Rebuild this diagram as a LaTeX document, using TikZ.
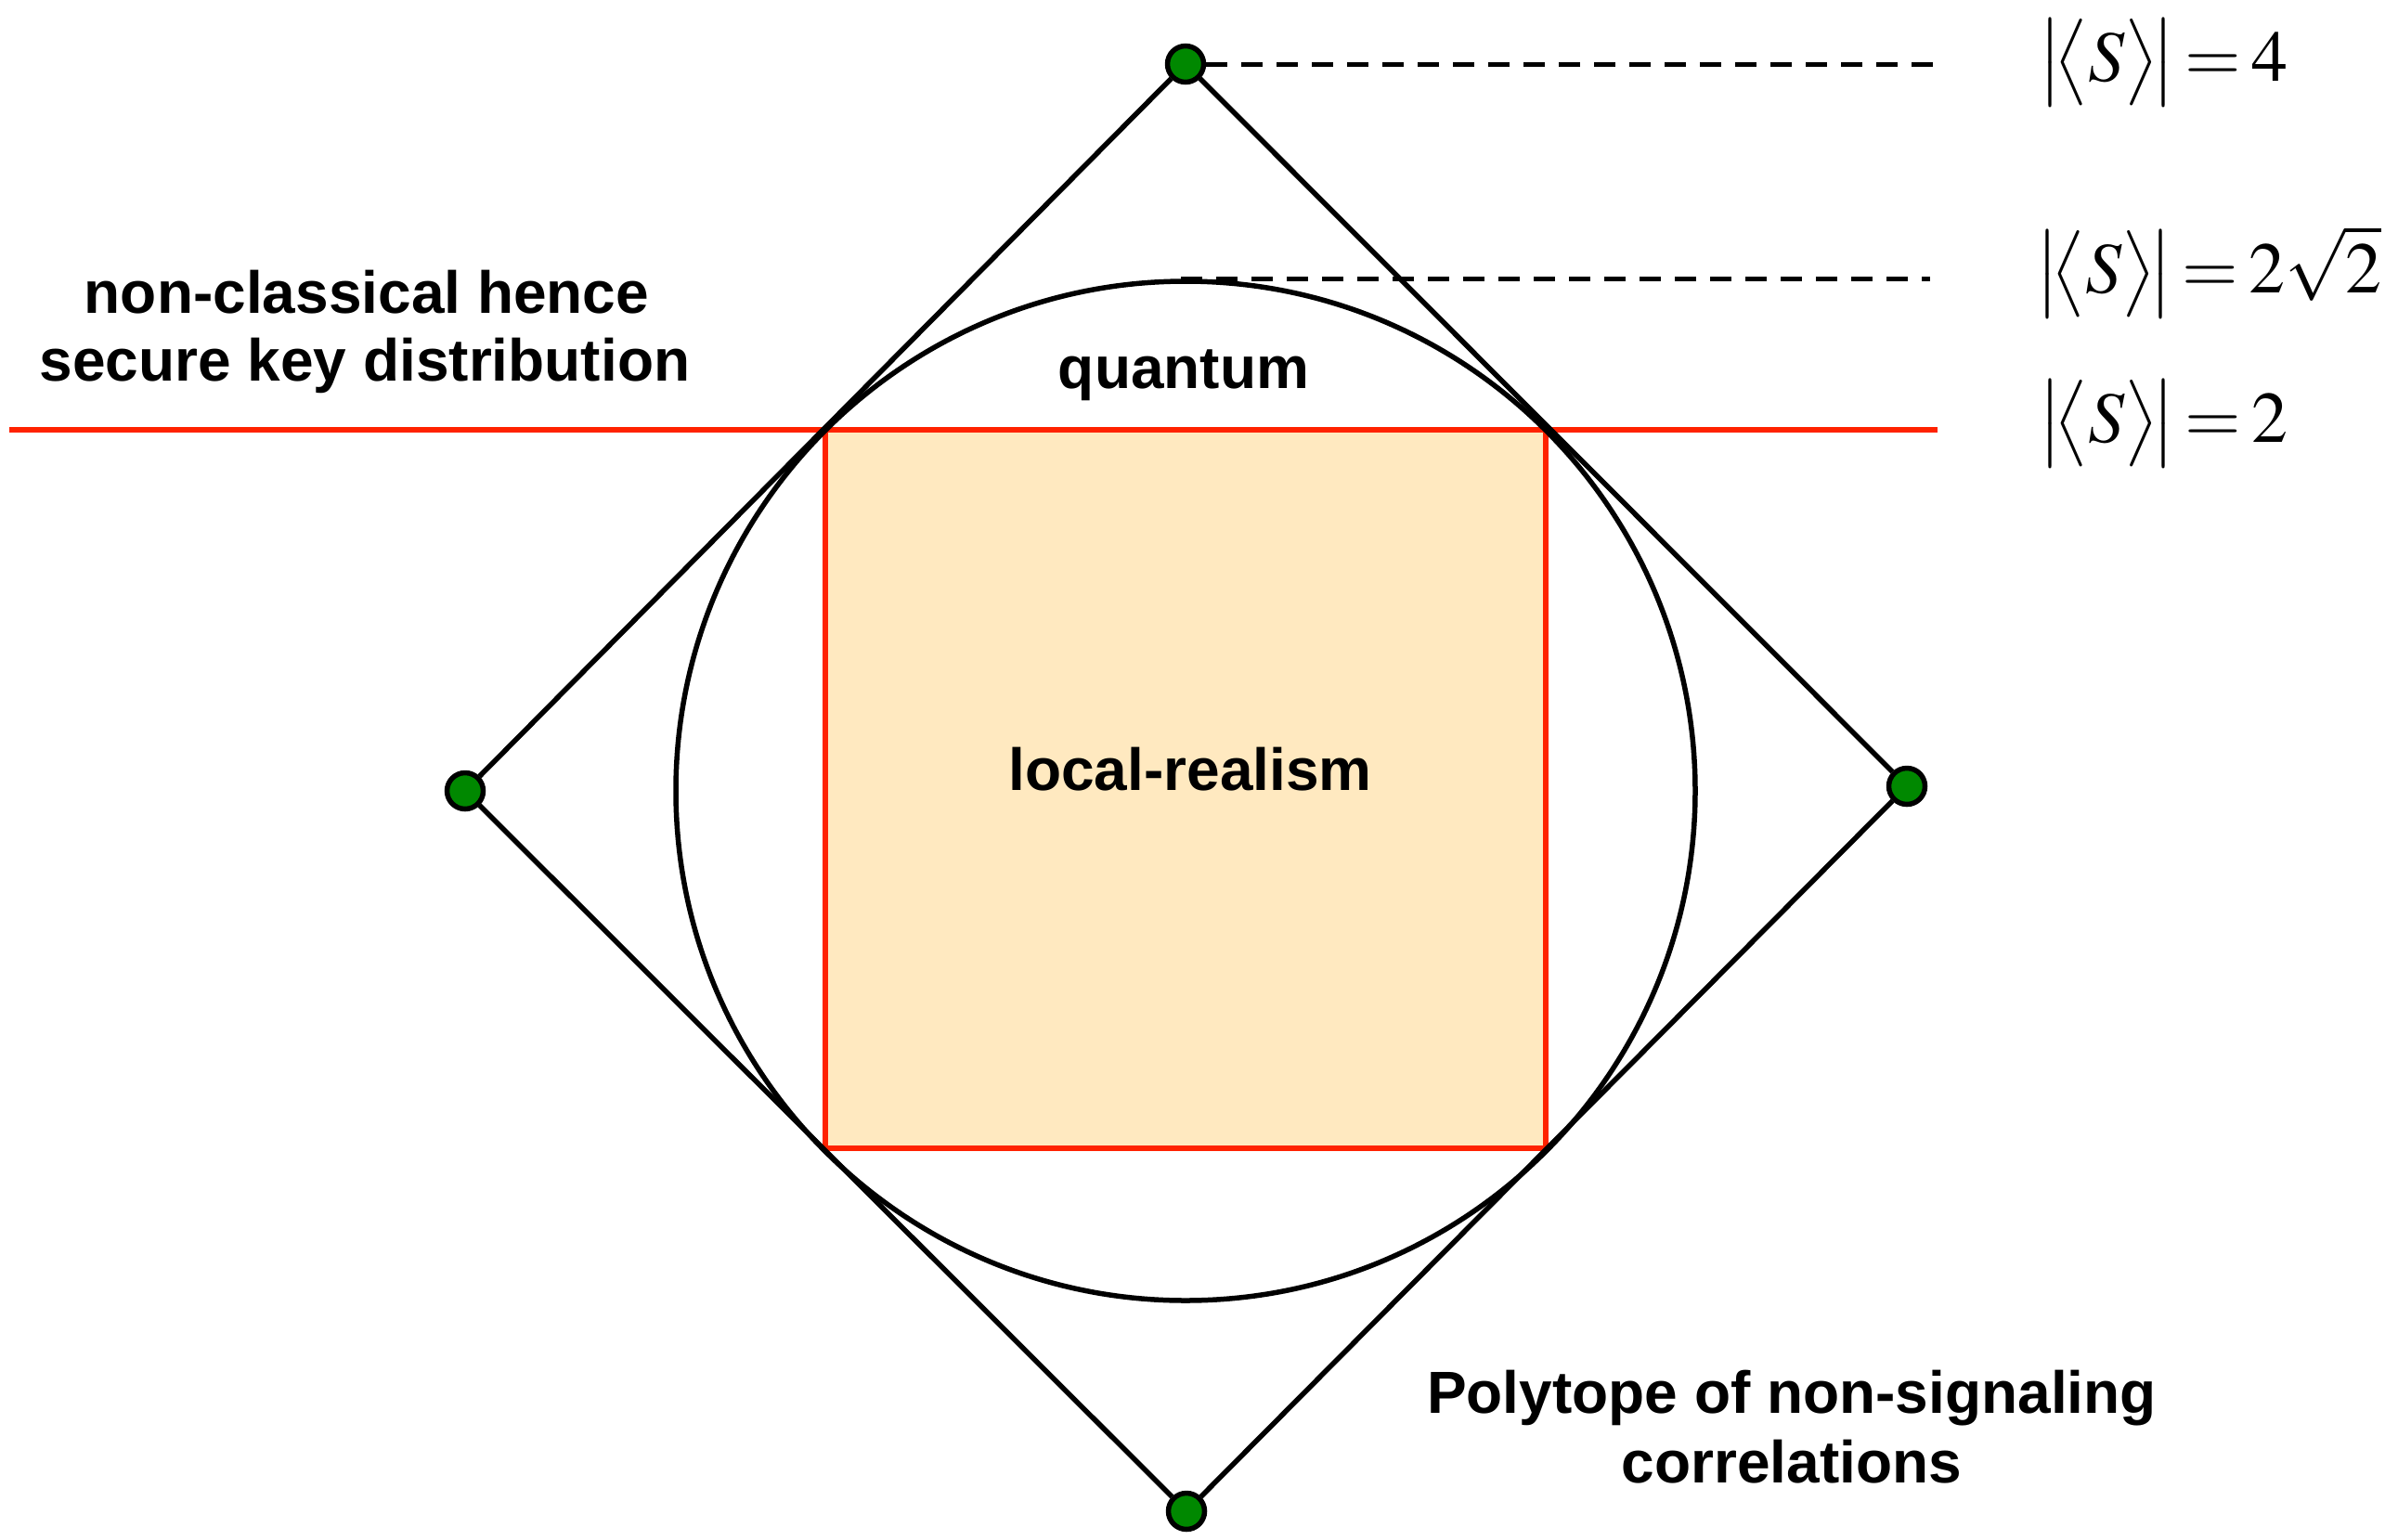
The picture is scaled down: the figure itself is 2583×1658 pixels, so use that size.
\documentclass[tikz,border=0pt]{standalone}
\usepackage{amsmath}
\usepackage{mathptmx}
\usepackage[no-math]{fontspec}
\newfontfamily\lab{Liberation Sans}
\definecolor{vgreen}{RGB}{0,136,0}
\definecolor{lrred}{RGB}{255,34,0}
\definecolor{lrfill}{RGB}{255,233,192}
\newcommand{\absS}{\bigl|\!\bigl\langle S\bigr\rangle\!\bigr|}
\newcommand{\Seq}{\mskip2.5mu{=}\mskip2.5mu}
\begin{document}
\begin{tikzpicture}[x=1pt,y=-1pt,
  blk/.style={line width=5.5pt, black},
  redln/.style={line width=5.5pt, lrred},
  dashln/.style={line width=5pt, black, dash pattern=on 23pt off 15pt},
  vdot/.style={circle, draw=black, line width=5.5pt, fill=vgreen, minimum size=39pt, inner sep=0pt},
  txt/.style={font=\lab\bfseries\fontsize{64}{74}\selectfont, anchor=base, inner sep=0pt},
  mth/.style={font=\fontsize{78}{90}\selectfont, anchor=base west, inner sep=0pt}]
\useasboundingbox (0,0) rectangle (2583,1658);
% local realism square
\fill[lrfill] (889,463) rectangle (1665,1237);
\draw[redln] (889,463) rectangle (1665,1237);
% horizontal red line
\coordinate (rl) at (10,463);
\coordinate (rr) at (2087,463);
\draw[redln] (rl) -- (rr);
% quantum circle
\node[circle, draw=black, line width=5.5pt, minimum size=1098pt, inner sep=0pt] (Q) at (1277,852) {};
% vertices
\node[vdot] (T) at (1277,69) {};
\node[vdot] (L) at (501,852) {};
\node[vdot] (R) at (2054,847) {};
\node[vdot] (B) at (1278,1628) {};
\draw[blk] (T) -- (R);
\draw[blk] (R) -- (B);
\draw[blk] (B) -- (L);
\draw[blk] (L) -- (T);
% dashed levels
\coordinate (d1) at (2084,69);
\coordinate (d2a) at (1272,300);
\coordinate (d2b) at (2079,300);
\draw[dashln] (T) -- (d1);
\draw[dashln] (d2a) -- (d2b);
% labels
\node[txt] (nc1) at (395,337) {non-classical hence};
\node[txt] (nc2) at (393,410) {secure key distribution};
\node[txt] (qu) at (1275,418) {quantum};
\node[txt] (lr) at (1282,851) {local-realism};
\node[txt] (po1) at (1930,1522) {Polytope of non-signaling};
\node[txt] (po2) at (1930,1597) {correlations};
\node[mth] (s4) at (2195,87) {$\absS\Seq 4$};
\node[mth] (s22) at (2192,315) {$\absS\Seq 2\sqrt{2}$};
\node[mth] (s2) at (2195,476) {$\absS\Seq 2$};
\end{tikzpicture}
\end{document}
